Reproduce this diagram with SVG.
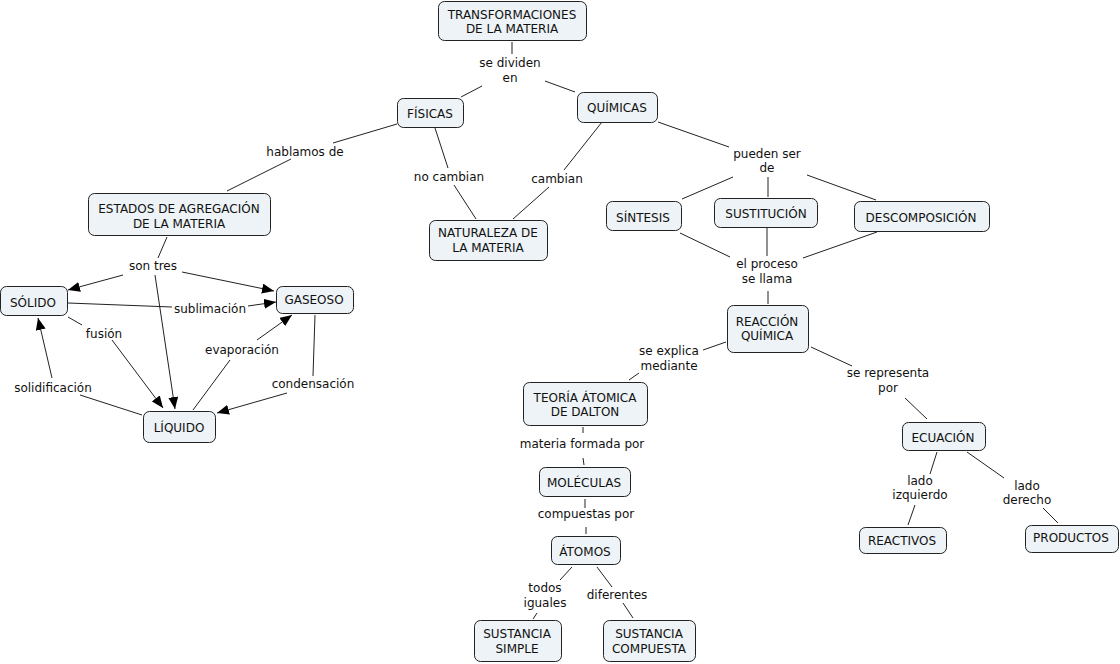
<svg xmlns="http://www.w3.org/2000/svg" width="1120" height="664" viewBox="0 0 1120 664">
<defs>
<marker id="arr" markerUnits="userSpaceOnUse" markerWidth="12" markerHeight="10" refX="12" refY="5" orient="auto">
<path d="M0,0 L12,5 L0,10 z" fill="#000"/>
</marker>
<style>
.n rect{fill:#edf3f6;stroke:#222;stroke-width:1}
text{font-family:"DejaVu Sans",Verdana,sans-serif;font-size:12px;fill:#111;text-anchor:middle}
.c line{stroke:#222;stroke-width:1;fill:none}
.c line.a{marker-end:url(#arr)}
</style>
</defs>
<rect width="1120" height="664" fill="#fff"/>
<g class="c" id="connectors">
<line x1="512" y1="42" x2="512" y2="54"/>
<line x1="482" y1="86" x2="461" y2="97"/>
<line x1="545" y1="81" x2="575" y2="92"/>
<line x1="397" y1="124" x2="333" y2="143"/>
<line x1="291" y1="159" x2="227" y2="191"/>
<line x1="435" y1="128" x2="448" y2="168"/>
<line x1="454" y1="185" x2="476" y2="219"/>
<line x1="602" y1="122" x2="564" y2="170"/>
<line x1="549" y1="187" x2="513" y2="219"/>
<line x1="658" y1="122" x2="729" y2="147"/>
<line x1="733" y1="177" x2="682" y2="199"/>
<line x1="768" y1="177" x2="768" y2="197"/>
<line x1="807" y1="175" x2="876" y2="200"/>
<line x1="680" y1="233" x2="730" y2="257"/>
<line x1="767" y1="228" x2="767" y2="256"/>
<line x1="877" y1="232" x2="803" y2="258"/>
<line x1="768" y1="291" x2="768" y2="304"/>
<line x1="726" y1="342" x2="703" y2="350"/>
<line x1="639" y1="373" x2="629" y2="380"/>
<line x1="811" y1="347" x2="852" y2="366"/>
<line x1="905" y1="398" x2="927" y2="419"/>
<line x1="583" y1="427" x2="583" y2="433"/>
<line x1="583" y1="458" x2="584" y2="465"/>
<line x1="585" y1="499" x2="585" y2="508"/>
<line x1="586" y1="527" x2="586" y2="534"/>
<line x1="572" y1="567" x2="560" y2="580"/>
<line x1="537" y1="613" x2="533" y2="619"/>
<line x1="597" y1="567" x2="612" y2="587"/>
<line x1="623" y1="603" x2="633" y2="618"/>
<line x1="937" y1="452" x2="930" y2="474"/>
<line x1="915" y1="505" x2="908" y2="525"/>
<line x1="967" y1="452" x2="1004" y2="478"/>
<line x1="1043" y1="508" x2="1058" y2="523"/>
<line x1="167" y1="237" x2="158" y2="258"/>
<line class="a" x1="123" y1="275" x2="68" y2="290"/>
<line class="a" x1="182" y1="272" x2="274" y2="291"/>
<line class="a" x1="155" y1="275" x2="175" y2="409"/>
<line x1="68" y1="303" x2="172" y2="307"/>
<line class="a" x1="248" y1="306" x2="276" y2="302"/>
<line x1="68" y1="317" x2="82" y2="325"/>
<line class="a" x1="112" y1="340" x2="163" y2="408"/>
<line x1="315" y1="315" x2="313" y2="376"/>
<line class="a" x1="287" y1="393" x2="217" y2="413"/>
<line x1="193" y1="410" x2="230" y2="360"/>
<line class="a" x1="257" y1="340" x2="292" y2="315"/>
<line x1="142" y1="415" x2="80" y2="395"/>
<line class="a" x1="52" y1="378" x2="38" y2="318"/>
</g>
<g id="labels">
<text x="510" y="67">se dividen</text><text x="510" y="82">en</text>
<text x="305" y="156">hablamos de</text>
<text x="449" y="181">no cambian</text>
<text x="557" y="183">cambian</text>
<text x="767" y="158">pueden ser</text><text x="767" y="172">de</text>
<text x="767" y="268">el proceso</text><text x="767" y="283">se llama</text>
<text x="669" y="355">se explica</text><text x="669" y="370">mediante</text>
<text x="888" y="377">se representa</text><text x="888" y="392">por</text>
<text x="582" y="448">materia formada por</text>
<text x="586" y="518">compuestas por</text>
<text x="545" y="592">todos</text><text x="545" y="607">iguales</text>
<text x="617" y="599">diferentes</text>
<text x="920" y="485">lado</text><text x="920" y="499">izquierdo</text>
<text x="1027" y="490">lado</text><text x="1027" y="504">derecho</text>
<text x="153" y="270">son tres</text>
<text x="210" y="313">sublimación</text>
<text x="104" y="338">fusión</text>
<text x="242" y="354">evaporación</text>
<text x="53" y="392">solidificación</text>
<text x="313" y="388">condensación</text>
</g>
<g class="n" id="n-transformaciones"><rect x="438.5" y="1.5" width="148" height="39" rx="6"/><text x="512" y="19">TRANSFORMACIONES</text><text x="512" y="33">DE LA MATERIA</text></g>
<g class="n" id="n-fisicas"><rect x="397.5" y="98.5" width="66" height="29" rx="6"/><text x="430" y="118">FÍSICAS</text></g>
<g class="n" id="n-quimicas"><rect x="577.5" y="92.5" width="80" height="30" rx="6"/><text x="617" y="112">QUÍMICAS</text></g>
<g class="n" id="n-estados"><rect x="88.5" y="193.5" width="182" height="42" rx="6"/><text x="179" y="213">ESTADOS DE AGREGACIÓN</text><text x="179" y="228">DE LA MATERIA</text></g>
<g class="n" id="n-solido"><rect x="0.5" y="286.5" width="67" height="29" rx="6"/><text x="33" y="307">SÓLIDO</text></g>
<g class="n" id="n-gaseoso"><rect x="276.5" y="286.5" width="77" height="27" rx="6"/><text x="314" y="304">GASEOSO</text></g>
<g class="n" id="n-liquido"><rect x="143.5" y="411.5" width="72" height="31" rx="6"/><text x="179" y="432">LÍQUIDO</text></g>
<g class="n" id="n-naturaleza"><rect x="429.5" y="220.5" width="118" height="40" rx="6"/><text x="488" y="237">NATURALEZA DE</text><text x="488" y="252">LA MATERIA</text></g>
<g class="n" id="n-sintesis"><rect x="606.5" y="201.5" width="75" height="29" rx="6"/><text x="643" y="222">SÍNTESIS</text></g>
<g class="n" id="n-sustitucion"><rect x="714.5" y="198.5" width="103" height="29" rx="6"/><text x="766" y="218">SUSTITUCIÓN</text></g>
<g class="n" id="n-descomposicion"><rect x="854.5" y="201.5" width="135" height="30" rx="6"/><text x="921" y="222">DESCOMPOSICIÓN</text></g>
<g class="n" id="n-reaccion"><rect x="727.5" y="305.5" width="81" height="47" rx="6"/><text x="767" y="326">REACCIÓN</text><text x="767" y="340">QUÍMICA</text></g>
<g class="n" id="n-teoria"><rect x="523.5" y="382.5" width="124" height="43" rx="6"/><text x="585" y="402">TEORÍA ÁTOMICA</text><text x="585" y="416">DE DALTON</text></g>
<g class="n" id="n-moleculas"><rect x="539.5" y="467.5" width="91" height="29" rx="6"/><text x="584" y="487">MOLÉCULAS</text></g>
<g class="n" id="n-atomos"><rect x="551.5" y="536.5" width="69" height="28" rx="6"/><text x="585" y="556">ÁTOMOS</text></g>
<g class="n" id="n-simple"><rect x="474.5" y="620.5" width="87" height="41" rx="6"/><text x="517" y="638">SUSTANCIA</text><text x="517" y="653">SIMPLE</text></g>
<g class="n" id="n-compuesta"><rect x="603.5" y="620.5" width="92" height="41" rx="6"/><text x="649" y="638">SUSTANCIA</text><text x="649" y="653">COMPUESTA</text></g>
<g class="n" id="n-ecuacion"><rect x="902.5" y="422.5" width="83" height="28" rx="6"/><text x="943" y="442">ECUACIÓN</text></g>
<g class="n" id="n-reactivos"><rect x="859.5" y="527.5" width="87" height="26" rx="6"/><text x="902" y="545">REACTIVOS</text></g>
<g class="n" id="n-productos"><rect x="1025.5" y="525.5" width="93" height="27" rx="6"/><text x="1071" y="542">PRODUCTOS</text></g>
</svg>
